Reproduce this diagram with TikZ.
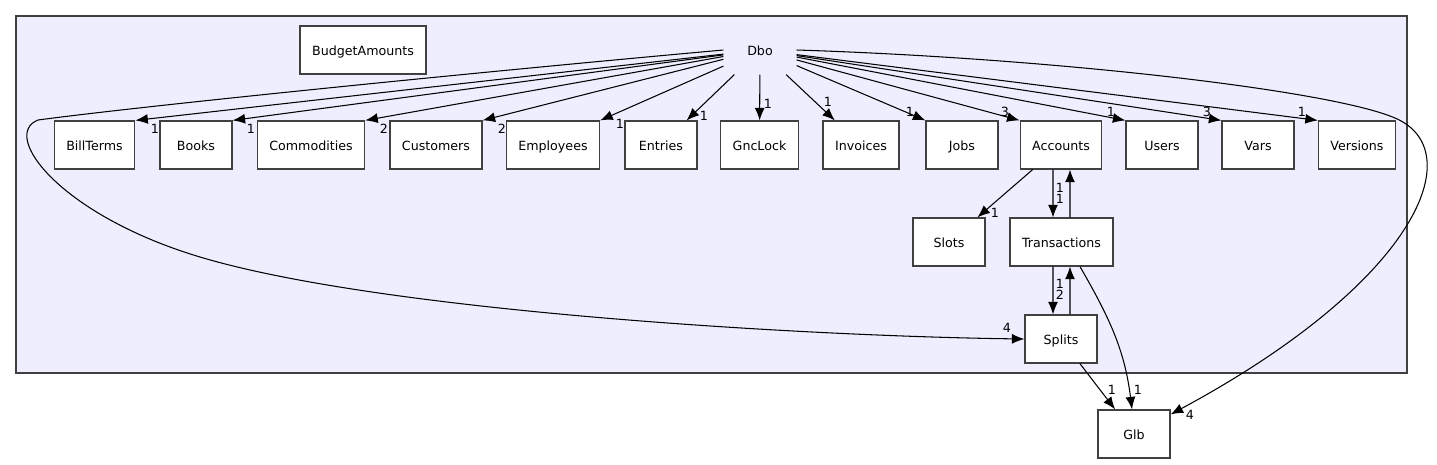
\documentclass[tikz,border=0pt]{standalone}
\usepackage{fontspec}
\setmainfont{DejaVu Sans}
\usetikzlibrary{arrows.meta}
\definecolor{dirbg}{RGB}{238,238,255}
\definecolor{dirline}{RGB}{64,64,64}

\begin{document}
\begin{tikzpicture}[x=0.02cm,y=-0.02cm,
  box/.style={draw=dirline,fill=white,line width=0.7pt,minimum width=1.44cm,
    minimum height=0.96cm,inner xsep=0.24cm,text height=1.55ex,text depth=0.45ex,
    font=\fontsize{7.2}{8.6}\selectfont},
  lbl/.style={inner sep=0pt,font=\fontsize{7.2}{8.6}\selectfont},
  dep/.style={draw=black,line width=0.6pt,-{Latex[length=0.25cm,width=0.2cm]}}]
\useasboundingbox (0,0) rectangle (1437,464);
\draw[dirline,fill=dirbg,line width=0.7pt] (16,16) rectangle (1407,373);
% directory Dbo and its subdirectories
\node[box,draw=none,fill=none] (dbo) at (760,50) {Dbo};
\node[box] (budget) at (363,50) {BudgetAmounts};
\foreach \n/\t/\x in {billterms/BillTerms/94.5, books/Books/196, commod/Commodities/311,
    customers/Customers/436, employees/Employees/553, entries/Entries/661,
    gnclock/GncLock/759.5, invoices/Invoices/861, jobs/Jobs/962, accounts/Accounts/1061,
    users/Users/1162, vars/Vars/1258, versions/Versions/1357}
  \node[box] (\n) at (\x,145) {\t};
\node[box] (slots) at (949,242) {Slots};
\node[box] (trans) at (1061.5,242) {Transactions};
\node[box] (splits) at (1061,339) {Splits};
\node[box] (glb) at (1134,434) {Glb};
% dependencies of Dbo
\draw[dep] (dbo) -- (billterms.north east) node[lbl] at (155,129) {1};
\draw[dep] (dbo) -- (books.north east) node[lbl] at (251,129) {1};
\draw[dep] (dbo) -- (commod.north east) node[lbl] at (384,129) {2};
\draw[dep] (dbo) -- (customers.north east) node[lbl] at (502,129) {2};
\draw[dep] (dbo) -- (employees.north east) node[lbl] at (620,124) {1};
\draw[dep] (dbo) -- (entries) node[lbl] at (704,116) {1};
\draw[dep] (dbo) -- (gnclock) node[lbl] at (768,104) {1};
\draw[dep] (dbo) -- (invoices) node[lbl] at (828,102) {1};
\draw[dep] (dbo) -- (jobs.north west) node[lbl] at (910,112) {1};
\draw[dep] (dbo) -- (accounts.north west) node[lbl] at (1005,112) {3};
\draw[dep] (dbo) -- (users.north west) node[lbl] at (1111,112) {1};
\draw[dep] (dbo) -- (vars.north west) node[lbl] at (1207,112) {3};
\draw[dep] (dbo) -- (versions.north west) node[lbl] at (1302,112) {1};
\draw[dep] (dbo.west) .. controls (500,70) and (150,105) .. (38,120)
  .. controls (0,135) and (60,215) .. (200,257)
  .. controls (380,311) and (800,336) .. (splits.west) node[lbl] at (1007,328) {4};
\draw[dep] (dbo.east) .. controls (1050,58) and (1330,90) .. (1395,118)
  .. controls (1470,150) and (1420,280) .. ([yshift=-0.1cm]glb.north east)
  node[lbl] at (1190,415) {4};
% lower part
\draw[dep] (accounts) -- (slots) node[lbl] at (995,213) {1};
\draw[dep] ([xshift=-0.16cm]accounts.south) -- ([xshift=-0.17cm]trans.north)
  node[lbl] at (1060,199) {1};
\draw[dep] ([xshift=0.17cm]trans.north) -- ([xshift=0.18cm]accounts.south)
  node[lbl] at (1060,188) {1};
\draw[dep] ([xshift=-0.17cm]trans.south) -- ([xshift=-0.16cm]splits.north)
  node[lbl] at (1060,295) {2};
\draw[dep] ([xshift=0.18cm]splits.north) -- ([xshift=0.17cm]trans.south)
  node[lbl] at (1060,284) {1};
\draw[dep] ([xshift=0.37cm]trans.south) to[out=-60,in=97] ([xshift=-0.04cm]glb.north)
  node[lbl] at (1138,390) {1};
\draw[dep] (splits) -- (glb) node[lbl] at (1112,390) {1};
\end{tikzpicture}
\end{document}
